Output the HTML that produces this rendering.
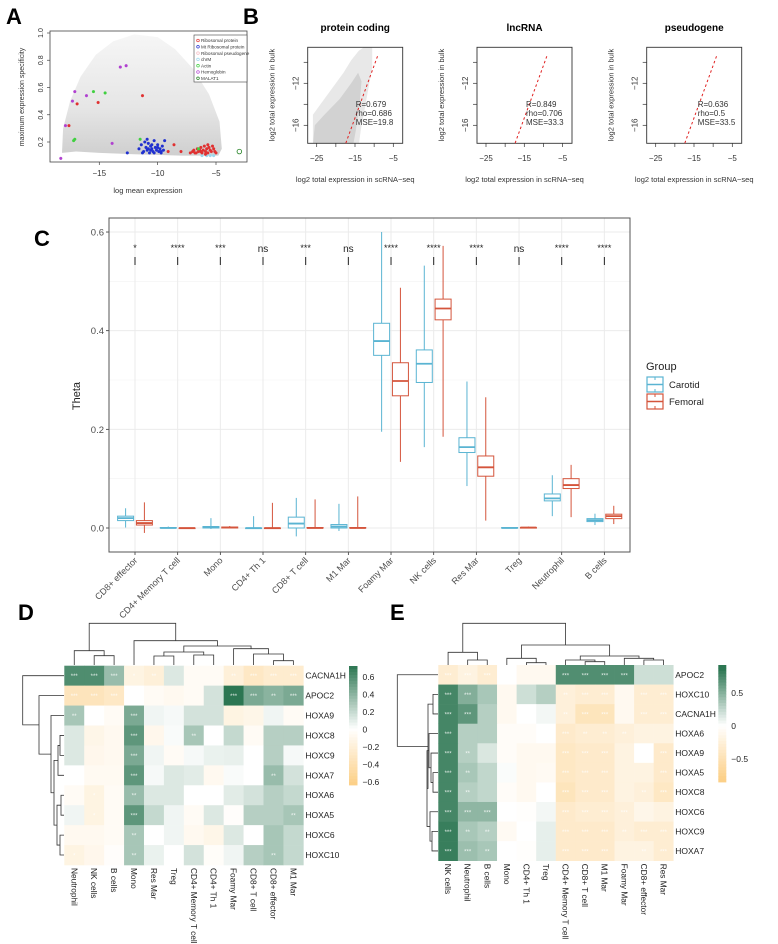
<!DOCTYPE html>
<html><head><meta charset="utf-8">
<style>
body{margin:0;background:#fff;}
svg{display:block;font-family:"Liberation Sans",sans-serif;}
</style></head>
<body>
<svg id="fig" width="778" height="944" viewBox="0 0 778 944" xmlns="http://www.w3.org/2000/svg">
<defs>
<linearGradient id="cloudA" x1="0" y1="0" x2="0" y2="1">
<stop offset="0" stop-color="#f6f6f6"/><stop offset="0.6" stop-color="#e6e6e6"/><stop offset="1" stop-color="#cfcfcf"/>
</linearGradient>
<clipPath id="clipB1"><rect x="308" y="47" width="95" height="96"/></clipPath>
</defs>
<g id="pA"></g>
<g id="pB"></g>
<g id="pC"></g>
<g id="pD"></g>
<g id="pE"></g>
</svg>
<script>
// ---------- Panel A data ----------
const aXTicks=[-15,-10,-5];
const aYTicks=[0.2,0.4,0.6,0.8,1.0];
const aLegend=["Ribosomal protein","Mt Ribosomal protein","Ribosomal pseudogene","chrM","Actin","Hemoglobin","MALAT1"];
const aLegendColors=["#e03030","#2030d0","#f4b8c0","#9ad8ee","#40d040","#b040d0","#208020"];
const aRedX=[-17.6,-16.9,-15.1,-11.3,-8.6,-8.0,-9.1,-7.2,-7.0,-6.9,-6.7,-6.6,-6.5,-6.3,-6.2,-6.1,-6.0,-5.9,-5.8,-5.7,-5.6,-5.5,-5.4,-5.3,-5.2,-5.1,-5.0,-6.4,-6.8,-5.7,-5.9,-6.3];
const aRedY=[0.32,0.48,0.49,0.54,0.18,0.13,0.13,0.12,0.13,0.14,0.12,0.15,0.13,0.16,0.12,0.14,0.17,0.13,0.15,0.12,0.16,0.14,0.13,0.17,0.15,0.13,0.12,0.14,0.12,0.18,0.11,0.13];
const aBlueX=[-11.6,-11.4,-11.2,-11.1,-11.0,-10.9,-10.8,-10.7,-10.6,-10.5,-10.4,-10.3,-10.2,-10.1,-10.0,-9.9,-9.8,-9.7,-9.6,-9.5,-9.4,-11.3,-10.9,-10.6,-10.3,-10.0,-9.7,-10.8,-10.5,-12.6];
const aBlueY=[0.15,0.18,0.13,0.20,0.16,0.14,0.19,0.12,0.17,0.15,0.13,0.21,0.16,0.14,0.18,0.13,0.15,0.12,0.17,0.14,0.21,0.12,0.22,0.14,0.12,0.16,0.13,0.15,0.18,0.12];
const aPurpleX=[-18.3,-17.9,-17.3,-17.1,-16.1,-13.9,-13.2,-12.7];
const aPurpleY=[0.08,0.32,0.50,0.57,0.54,0.19,0.75,0.76];
const aGreenX=[-17.1,-17.2,-15.5,-14.5,-11.5,-6.5];
const aGreenY=[0.22,0.21,0.57,0.56,0.22,0.15];
const aCyanX=[-6.2,-5.8,-5.5,-5.2];
const aCyanY=[0.10,0.10,0.10,0.10];
const aMalatX=[-3.0];
const aMalatY=[0.13];
// ---------- Panel B data ----------
const bTitles=["protein coding","lncRNA","pseudogene"];
const bStats=[["R=0.679","rho=0.686","MSE=19.8"],["R=0.849","rho=0.706","MSE=33.3"],["R=0.636","rho=0.5","MSE=33.5"]];
const bXTicks=[-25,-20,-15,-10,-5];
const bXLabels=["-25","","-15","","-5"];
const bYTicks=[-10,-12,-14,-16];
const bYLabels=["","-12","","-16"];
// ---------- Panel C data ----------
const cCats=["CD8+ effector","CD4+ Memory T cell","Mono","CD4+ Th 1","CD8+ T cell","M1 Mar","Foamy Mar","NK cells","Res Mar","Treg","Neutrophil","B cells"];
const cSig=["*","****","***","ns","***","ns","****","****","****","ns","****","****"];
const carLo=[0.001,0,-0.002,0,-0.017,-0.006,0.195,0.164,0.085,0,0.024,0.006];
const carQ1=[0.015,0,0,0,0,0,0.350,0.295,0.153,0,0.055,0.013];
const carMed=[0.020,0,0.002,0,0.009,0.003,0.379,0.333,0.164,0,0.060,0.016];
const carQ3=[0.024,0.001,0.003,0,0.022,0.007,0.415,0.361,0.183,0.001,0.069,0.019];
const carHi=[0.040,0.003,0.020,0.024,0.061,0.049,0.600,0.532,0.297,0.001,0.107,0.029];
const femLo=[-0.010,0,0,0,0,0,0.134,0.185,0.015,0,0.022,0.008];
const femQ1=[0.006,0,0,0,0,0,0.268,0.422,0.105,0,0.080,0.019];
const femMed=[0.010,0,0.001,0,0,0,0.298,0.445,0.123,0.001,0.087,0.024];
const femQ3=[0.015,0,0.002,0,0.001,0.001,0.335,0.464,0.146,0.001,0.100,0.028];
const femHi=[0.052,0,0.004,0.051,0.058,0.064,0.487,0.572,0.265,0.003,0.128,0.045];
const cYTicks=[0,0.2,0.4,0.6];
// ---------- Panel D data ----------
const dRows=["CACNA1H","APOC2","HOXA9","HOXC8","HOXC9","HOXA7","HOXA6","HOXA5","HOXC6","HOXC10"];
const dCols=["Neutrophil","NK cells","B cells","Mono","Res Mar","Treg","CD4+ Memory T cell","CD4+ Th 1","Foamy Mar","CD8+ T cell","CD8+ effector","M1 Mar"];
const dVals=[
[0.6,0.6,0.35,-0.15,-0.2,0.12,-0.05,-0.05,-0.2,-0.3,-0.25,-0.25],
[-0.35,-0.35,-0.3,0.0,-0.05,-0.08,-0.05,0.15,0.72,0.45,0.4,0.45],
[0.3,0.0,-0.05,0.45,0.05,0.03,0.15,0.15,-0.15,-0.12,0.05,-0.05],
[0.12,-0.12,-0.08,0.55,-0.1,0.02,0.3,0.0,0.2,-0.05,0.25,0.25],
[0.12,-0.1,-0.08,0.45,0.05,-0.05,0.03,0.07,0.08,0.0,0.25,0.03],
[0.0,-0.07,-0.07,0.55,0.03,0.12,0.1,-0.08,0.02,0.0,0.35,0.15],
[-0.05,-0.15,-0.05,0.35,0.12,0.12,0.0,0.0,0.1,0.15,0.25,0.2],
[0.05,-0.15,-0.05,0.55,0.2,0.05,-0.05,0.12,-0.02,0.25,0.25,0.3],
[-0.08,-0.08,-0.05,0.3,0.0,0.05,-0.08,-0.12,0.12,0.0,0.3,0.2],
[-0.15,-0.1,-0.02,0.3,0.07,0.0,0.15,-0.03,0.05,0.25,0.3,0.2]];
const dStars=[
["***","***","***","*","**","","","","**","***","***","***"],
["***","***","***","","","","","","***","***","**","***"],
["**","","","***","","","","","","","",""],
["","","","***","","","**","","","","",""],
["","","","***","","","","","","","",""],
["","","","***","","","","","","","**",""],
["","*","","**","","","","","","","",""],
["","*","","***","","","","","","","","**"],
["","","","**","","","","","","","",""],
["*","","","**","","","","","","","**",""]];
const dTicks=[0.6,0.4,0.2,0,-0.2,-0.4,-0.6];
// ---------- Panel E data ----------
const eRows=["APOC2","HOXC10","CACNA1H","HOXA6","HOXA9","HOXA5","HOXC8","HOXC6","HOXC9","HOXA7"];
const eCols=["NK cells","Neutrophil","B cells","Mono","CD4+ Th 1","Treg","CD4+ Memory T cell","CD8+ T cell","M1 Mar","Foamy Mar","CD8+ effector","Res Mar"];
const eVals=[
[-0.3,-0.2,-0.3,0.0,-0.1,-0.1,0.7,0.7,0.7,0.7,0.2,0.2],
[0.75,0.5,0.35,-0.1,0.2,0.3,-0.25,-0.3,-0.3,-0.1,-0.3,-0.3],
[0.75,0.65,0.3,-0.1,0.0,0.05,-0.25,-0.45,-0.45,-0.1,-0.3,-0.3],
[0.75,0.3,0.3,-0.05,-0.05,0.0,-0.35,-0.3,-0.3,-0.25,-0.2,-0.2],
[0.75,0.3,0.15,-0.05,-0.1,-0.1,-0.4,-0.35,-0.35,-0.2,0.0,-0.35],
[0.75,0.35,0.25,0.02,-0.1,-0.08,-0.4,-0.35,-0.35,-0.2,-0.2,-0.35],
[0.75,0.3,0.25,-0.05,-0.1,0.0,-0.45,-0.35,-0.35,-0.2,-0.25,-0.4],
[0.75,0.45,0.45,0.0,-0.02,0.05,-0.35,-0.3,-0.3,-0.25,-0.15,-0.2],
[0.8,0.35,0.3,-0.08,0.0,0.1,-0.35,-0.35,-0.35,-0.25,-0.3,-0.3],
[0.8,0.4,0.35,0.0,-0.02,0.1,-0.35,-0.35,-0.35,-0.2,-0.2,-0.3]];
const eStars=[
["***","***","***","","","","***","***","***","***","",""],
["***","***","","","","","**","***","***","","***","***"],
["***","***","","","","","**","***","***","","***","***"],
["***","","","","","","***","**","**","**","",""],
["***","**","","","","","***","***","***","","","***"],
["***","**","","","","","***","***","***","","","***"],
["***","**","","","","","***","***","***","","**","***"],
["***","***","***","","","","***","***","***","***","",""],
["***","**","**","","","","***","***","***","**","***","***"],
["***","***","**","","","","***","***","***","","**","***"]];
const eTicks=[0.5,0,-0.5];

const NS="http://www.w3.org/2000/svg";
function mk(parent,tag,attrs,txt){const e=document.createElementNS(NS,tag);for(const k in attrs)e.setAttribute(k,attrs[k]);if(txt!==undefined)e.textContent=txt;parent.appendChild(e);return e;}

// ================= Panel A =================
(function(){
const g=document.getElementById('pA');
const X=v=>99.3+(v+15)*11.67, Y=v=>33+(1-v)*136.25;
let t=mk(g,'text',{x:6,y:24,'font-size':22,'font-weight':'bold'},'A');

const cloud=[[-18.2,0.12],[-18.1,0.3],[-17.5,0.5],[-16.6,0.68],[-15.3,0.84],[-13.8,0.94],[-12,0.99],[-10,0.97],[-8.5,0.88],[-7,0.74],[-5.6,0.55],[-4.7,0.35],[-4.5,0.15],[-4.8,0.1],[-8,0.1],[-12,0.11],[-15,0.12],[-17,0.13]];
let p=mk(g,'path',{d:'M'+cloud.map(c=>X(c[0]).toFixed(1)+','+Y(c[1]).toFixed(1)).join('L')+'Z',fill:'url(#cloudA)'});

let r=mk(g,'rect',{x:50,y:31,width:197,height:131,fill:'none',stroke:'#444','stroke-width':0.8});

aXTicks.forEach(v=>{mk(g,'line',{x1:X(v),x2:X(v),y1:162,y2:165,stroke:'#444','stroke-width':0.7});
 let l=mk(g,'text',{x:X(v),y:176,'font-size':8,'text-anchor':'middle',fill:'#333'},String(v).replace('-','−'));
 });
aYTicks.forEach(v=>{mk(g,'line',{x1:47,x2:50,y1:Y(v),y2:Y(v),stroke:'#444','stroke-width':0.7});
 let l=mk(g,'text',{x:43,y:Y(v),'font-size':7,'text-anchor':'middle',fill:'#333',transform:`rotate(-90 43 ${Y(v)})`},v.toFixed(1));
 });
t=mk(g,'text',{x:148,y:193,'font-size':7.5,'text-anchor':'middle',fill:'#333'},'log mean expression');

t=mk(g,'text',{x:24,y:97,'font-size':7,'text-anchor':'middle',fill:'#333',transform:'rotate(-90 24 97)'},'maximum expression specificity');

function pts(xs,ys,col,name,open){xs.forEach((x,i)=>{let c=mk(g,'circle',{cx:X(x),cy:Y(ys[i]),r:open?2.3:1.4,fill:open?'none':col,stroke:col,'stroke-width':open?0.8:0.3});
 });}
pts(aCyanX,aCyanY,'#9ad8ee','chrm-point');
pts(aBlueX,aBlueY,'#2030d0','mt-ribosomal-point');
pts(aRedX,aRedY,'#e03030','ribosomal-point');
pts(aPurpleX,aPurpleY,'#b040d0','hemoglobin-point');
pts(aGreenX,aGreenY,'#40d040','actin-point');
pts(aMalatX,aMalatY,'#208020','malat1-point',true);
let lg=mk(g,'rect',{x:194,y:35,width:53,height:47,fill:'#fff',stroke:'#444','stroke-width':0.6});

aLegend.forEach((s,i)=>{const y=40.5+i*6.3;
 let c=mk(g,'circle',{cx:198,cy:y,r:1.3,fill:'none',stroke:aLegendColors[i],'stroke-width':0.7});
 
 let l=mk(g,'text',{x:201,y:y+1.7,'font-size':4.6,fill:'#333'},s);
 });
})();

// ================= Panel B =================
(function(){
const g=document.getElementById('pB');
let t=mk(g,'text',{x:243,y:24,'font-size':22,'font-weight':'bold'},'B');

const offs=[0,169.3,339];
offs.forEach((o,k)=>{
 const X=v=>316.7+o+(v+25)*3.83, Y=v=>83.3+(-12-v)*10.5;
 const L=307.7+o,R=402.7+o;
 if(k===0){
  const cl=[[-26,-17.9],[-26,-15],[-24,-14],[-21,-12.5],[-18,-11],[-16,-9.8],[-14,-8.9],[-12,-8.4],[-10.5,-8.6],[-10.5,-10.5],[-11.5,-12.5],[-12.5,-14.5],[-13.5,-16.5],[-14,-17.9]];
  let p=mk(g,'path',{d:'M'+cl.map(c=>X(c[0]).toFixed(1)+','+Y(c[1]).toFixed(1)).join('L')+'Z',fill:'#e8e8e8','clip-path':'url(#clipB1)'});
  
  const core=[[-26,-17.9],[-25.5,-16],[-23,-15],[-19,-13.5],[-16,-12],[-14.2,-11],[-13.3,-11.8],[-13.8,-14],[-14.8,-16.5],[-15.5,-17.9]];
  p=mk(g,'path',{d:'M'+core.map(c=>X(c[0]).toFixed(1)+','+Y(c[1]).toFixed(1)).join('L')+'Z',fill:'#d2d2d2','clip-path':'url(#clipB1)'});
  
 }
 let r=mk(g,'rect',{x:L,y:47.3,width:95,height:96,fill:'none',stroke:'#333','stroke-width':0.9});
 
 let ln=mk(g,'line',{x1:X(-17.4),y1:Y(-17.7),x2:X(-8.9),y2:Y(-9.2),stroke:'#e02020','stroke-width':1,'stroke-dasharray':'2.5,2.5'});
 
 bXTicks.forEach((v,i)=>{mk(g,'line',{x1:X(v),x2:X(v),y1:143.3,y2:147,stroke:'#333','stroke-width':0.7});
  if(bXLabels[i]){let l=mk(g,'text',{x:X(v),y:161,'font-size':8,'text-anchor':'middle',fill:'#333'},bXLabels[i].replace('-','−'));
  }});
 bYTicks.forEach((v,i)=>{mk(g,'line',{x1:L-4,x2:L,y1:Y(v),y2:Y(v),stroke:'#333','stroke-width':0.7});
  if(bYLabels[i]){let l=mk(g,'text',{x:L-9,y:Y(v),'font-size':8,'text-anchor':'middle',fill:'#333',transform:`rotate(-90 ${L-9} ${Y(v)})`},bYLabels[i].replace('-','−'));
  }});
 let ti=mk(g,'text',{x:L+47.5,y:31,'font-size':10,'font-weight':'bold','text-anchor':'middle'},bTitles[k]);
 
 let xl=mk(g,'text',{x:L+47.5,y:182,'font-size':7.5,'text-anchor':'middle',fill:'#333'},'log2 total expression in scRNA−seq');
 
 let yl=mk(g,'text',{x:L-33,y:95,'font-size':7.5,'text-anchor':'middle',fill:'#333',transform:`rotate(-90 ${L-33} 95)`},'log2 total expression in bulk');
 
 bStats[k].forEach((s,i)=>{let l=mk(g,'text',{x:L+(k===0?48:k===1?49:51),y:107+i*9,'font-size':8,fill:'#333'},s);
  });
});
})();

// ================= Panel C =================
(function(){
const g=document.getElementById('pC');
const Y=v=>528-v*493.3, XC=i=>135+i*42.67;
const L=109,R=630,T=218,B=552;
let t=mk(g,'text',{x:34,y:246,'font-size':22,'font-weight':'bold'},'C');

let bg=mk(g,'rect',{x:L,y:T,width:R-L,height:B-T,fill:'#fff'});

[0.1,0.3,0.5].forEach(v=>mk(g,'line',{x1:L,x2:R,y1:Y(v),y2:Y(v),stroke:'#f2f2f2','stroke-width':0.6}));
cYTicks.forEach(v=>{mk(g,'line',{x1:L,x2:R,y1:Y(v),y2:Y(v),stroke:'#ebebeb','stroke-width':1});
 mk(g,'line',{x1:L-3,x2:L,y1:Y(v),y2:Y(v),stroke:'#333','stroke-width':0.8});
 let l=mk(g,'text',{x:L-5,y:Y(v)+3.5,'font-size':9.5,'text-anchor':'end',fill:'#4d4d4d'},v.toFixed(1));
 });
cCats.forEach((c,i)=>{const x=XC(i);
 mk(g,'line',{x1:x,x2:x,y1:T,y2:B,stroke:'#ebebeb','stroke-width':1});
 mk(g,'line',{x1:x,x2:x,y1:B,y2:B+3,stroke:'#333','stroke-width':0.8});
 let l=mk(g,'text',{x:x+3,y:B+9,'font-size':9,'text-anchor':'end',fill:'#4d4d4d',transform:`rotate(-45 ${x+3} ${B+9})`},c);
 
 let s=mk(g,'text',{x:x,y:cSig[i]==='ns'?252:251,'font-size':cSig[i]==='ns'?10:9,'text-anchor':'middle',fill:'#222'},cSig[i]);
 
 let br=mk(g,'line',{x1:x,x2:x,y1:257,y2:265,stroke:'#222','stroke-width':1});
 
});
function box(i,dx,lo,q1,md,q3,hi,col,name){
 const x=XC(i)+dx,w=8;
 let wk=mk(g,'line',{x1:x,x2:x,y1:Y(hi),y2:Y(lo),stroke:col,'stroke-width':1});
 
 let b=mk(g,'rect',{x:x-w,y:Y(q3),width:2*w,height:Math.max(0.6,Y(q1)-Y(q3)),fill:'#fff',stroke:col,'stroke-width':1});
 
 let m=mk(g,'line',{x1:x-w,x2:x+w,y1:Y(md),y2:Y(md),stroke:col,'stroke-width':1.8});
 
}
cCats.forEach((c,i)=>{
 box(i,-9.4,carLo[i],carQ1[i],carMed[i],carQ3[i],carHi[i],'#5ab4d2','carotid');
 box(i,9.4,femLo[i],femQ1[i],femMed[i],femQ3[i],femHi[i],'#d4553c','femoral');
});
let fr=mk(g,'rect',{x:L,y:T,width:R-L,height:B-T,fill:'none',stroke:'#555','stroke-width':1});

t=mk(g,'text',{x:80,y:396,'font-size':11,'text-anchor':'middle',fill:'#222',transform:'rotate(-90 80 396)'},'Theta');

t=mk(g,'text',{x:646,y:370,'font-size':11,fill:'#222'},'Group');

[['Carotid','#5ab4d2',377],['Femoral','#d4553c',394]].forEach(a=>{
 let k=mk(g,'rect',{x:647,y:a[2],width:16,height:15,fill:'#fff',stroke:a[1],'stroke-width':1.2});
 
 mk(g,'line',{x1:647,x2:663,y1:a[2]+7.5,y2:a[2]+7.5,stroke:a[1],'stroke-width':1.5});
 mk(g,'line',{x1:655,x2:655,y1:a[2],y2:a[2]+3,stroke:a[1],'stroke-width':1});
 mk(g,'line',{x1:655,x2:655,y1:a[2]+12,y2:a[2]+15,stroke:a[1],'stroke-width':1});
 let l=mk(g,'text',{x:669,y:a[2]+11,'font-size':9.5,fill:'#222'},a[0]);
 
});
})();

// ================= Heatmap helper =================
function color(v,maxG,minO){
 const W=[255,255,255],G=[44,118,82],O=[252,208,136];
 let c,f;
 if(v>=0){f=Math.min(1,v/maxG);c=G;}else{f=Math.min(1,v/minO);c=O;}
 return 'rgb('+W.map((w,i)=>Math.round(w+(c[i]-w)*f)).join(',')+')';
}
function heat(g,rows,cols,vals,stars,x0,y0,cw,ch,maxG,minO){
 vals.forEach((row,r)=>row.forEach((v,c)=>{
  let e=mk(g,'rect',{x:x0+c*cw,y:y0+r*ch,width:cw+0.3,height:ch+0.3,fill:color(v,maxG,minO)});
  
  if(stars[r][c]){let s=mk(g,'text',{x:x0+(c+0.5)*cw,y:y0+(r+0.5)*ch+2.5,'font-size':6,'text-anchor':'middle',fill:'#fff','fill-opacity':0.85},stars[r][c]);
   }
 }));
 rows.forEach((s,r)=>{let l=mk(g,'text',{x:x0+cols.length*cw+2,y:y0+(r+0.5)*ch+3,'font-size':8.5,fill:'#222'},s);
  });
 cols.forEach((s,c)=>{const x=x0+(c+0.5)*cw-3,y=y0+rows.length*ch+3;
  let l=mk(g,'text',{x:x,y:y,'font-size':8.3,fill:'#222',transform:`rotate(90 ${x} ${y})`},s);
  });
}
function dendro(g,d,name){let p=mk(g,'path',{d:d,fill:'none',stroke:'#333','stroke-width':0.8});
 }
function cbar(g,x,y,w,h,top,bot,maxG,minO,ticks){
 const n=40;for(let i=0;i<n;i++){const v=top+(bot-top)*(i+0.5)/n;
  mk(g,'rect',{x:x,y:y+i*h/n,width:w,height:h/n+0.4,fill:color(v,maxG,minO)});}
 ticks.forEach(t=>{const yy=y+(top-t)/(top-bot)*h;
  let l=mk(g,'text',{x:x+w+5,y:yy+3.5,'font-size':8.5,fill:'#222'},String(t).replace('-','−'));
  });
}

// ================= Panel D =================
(function(){
const g=document.getElementById('pD');
let t=mk(g,'text',{x:18,y:620,'font-size':22,'font-weight':'bold'},'D');

const x0=64.3,y0=665.7,cw=19.92,ch=19.93;
heat(g,dRows,dCols,dVals,dStars,x0,y0,cw,ch,0.72,-0.62);
const cx=i=>x0+(i+0.5)*cw, ry=i=>y0+(i+0.5)*ch;
let d='';
d+=`M${cx(1)},665V655.7H${cx(2)}V665`;
d+=`M${cx(0)},665V650.7H${(cx(1)+cx(2))/2}V655.7`;
d+=`M${cx(4)},665V656H${cx(5)}V665`;
d+=`M${cx(6)},665V655H${cx(7)}V665`;
d+=`M${(cx(4)+cx(5))/2},656V652H${(cx(6)+cx(7))/2}V655`;
d+=`M${cx(10)},665V660.7H${cx(11)}V665`;
d+=`M${cx(9)},665V654H${(cx(10)+cx(11))/2}V660.7`;
d+=`M${cx(8)},665V648.7H${(cx(9)+(cx(10)+cx(11))/2)/2}V654`;
const lc=(cx(4)+cx(5)+cx(6)+cx(7))/4, rc=(cx(8)+(cx(9)+(cx(10)+cx(11))/2)/2)/2;
d+=`M${lc},652V646H${rc}V648.7`;
d+=`M${cx(3)},665V640.7H${(lc+rc)/2}V646`;
const rr=(cx(3)+(lc+rc)/2)/2, ll=(cx(0)+(cx(1)+cx(2))/2)/2;
d+=`M${ll},650.7V623.3H${rr}V640.7`;
dendro(g,d,'column-dendrogram');
const xr=64;
d='';
d+=`M${xr},${ry(3)}H60V${ry(4)}H${xr}`;
d+=`M60,${(ry(3)+ry(4))/2}H58V${ry(5)}H${xr}`;
d+=`M${xr},${ry(6)}H61V${ry(7)}H${xr}`;
d+=`M${xr},${ry(8)}H60V${ry(9)}H${xr}`;
d+=`M61,${(ry(6)+ry(7))/2}H57V${(ry(8)+ry(9))/2}H60`;
const a=(ry(3)+ry(4)+ry(5)*2)/4,b=(ry(6)+ry(7)+ry(8)+ry(9))/4;
d+=`M58,${a}H54V${b}H57`;
d+=`M${xr},${ry(2)}H51V${(a+b)/2}H54`;
const hc=(ry(2)+(a+b)/2)/2;
d+=`M${xr},${ry(1)}H39V${hc}H51`;
d+=`M${xr},${ry(0)}H22.7V${(ry(1)+hc)/2}H39`;
dendro(g,d,'row-dendrogram');
cbar(g,349,666,8.5,119,0.72,-0.64,0.72,-0.62,dTicks);
})();

// ================= Panel E =================
(function(){
const g=document.getElementById('pE');
let t=mk(g,'text',{x:390,y:620,'font-size':22,'font-weight':'bold'},'E');

const x0=438.3,y0=665,cw=19.58,ch=19.57;
heat(g,eRows,eCols,eVals,eStars,x0,y0,cw,ch,0.85,-0.8);
const cx=i=>x0+(i+0.5)*cw, ry=i=>y0+(i+0.5)*ch;
let d='';
d+=`M${cx(1)},665V660H${cx(2)}V665`;
d+=`M${cx(0)},665V652.3H${(cx(1)+cx(2))/2}V660`;
d+=`M${cx(4)},665V662.7H${cx(5)}V665`;
d+=`M${cx(3)},665V658.3H${(cx(4)+cx(5))/2}V662.7`;
d+=`M${cx(7)},665V661.7H${cx(8)}V665`;
d+=`M${cx(6)},665V660H${(cx(7)+cx(8))/2}V661.7`;
d+=`M${cx(10)},665V660H${cx(11)}V665`;
d+=`M${cx(9)},665V658.3H${(cx(10)+cx(11))/2}V660`;
const m1=(cx(6)+(cx(7)+cx(8))/2)/2, m2=(cx(9)+(cx(10)+cx(11))/2)/2;
d+=`M${m1},660V656H${m2}V658.3`;
const m3=(cx(3)+(cx(4)+cx(5))/2)/2, m4=(m1+m2)/2;
d+=`M${m3},658.3V645H${m4}V656`;
const m5=(cx(0)+(cx(1)+cx(2))/2)/2, m6=(m3+m4)/2;
d+=`M${m5},652.3V623.3H${m6}V645`;
dendro(g,d,'column-dendrogram');
const xr=438;
d='';
d+=`M${xr},${ry(8)}H432V${ry(9)}H${xr}`;
d+=`M${xr},${ry(7)}H430V${(ry(8)+ry(9))/2}H432`;
d+=`M${xr},${ry(5)}H433V${ry(6)}H${xr}`;
d+=`M${xr},${ry(4)}H431V${(ry(5)+ry(6))/2}H433`;
d+=`M${xr},${ry(3)}H429V${(ry(4)+(ry(5)+ry(6))/2)/2}H431`;
const p1=(ry(3)+(ry(4)+(ry(5)+ry(6))/2)/2)/2, p2=(ry(7)+(ry(8)+ry(9))/2)/2;
d+=`M429,${p1}H427V${p2}H430`;
d+=`M${xr},${ry(1)}H433V${ry(2)}H${xr}`;
const p3=(p1+p2)/2;
d+=`M433,${(ry(1)+ry(2))/2}H428V${p3}H427`;
const p4=((ry(1)+ry(2))/2+p3)/2;
d+=`M${xr},${ry(0)}H397.3V${p4}H428`;
dendro(g,d,'row-dendrogram');
cbar(g,718.3,665,8,117,0.91,-0.85,0.85,-0.8,eTicks);
})();
</script>
</body></html>
